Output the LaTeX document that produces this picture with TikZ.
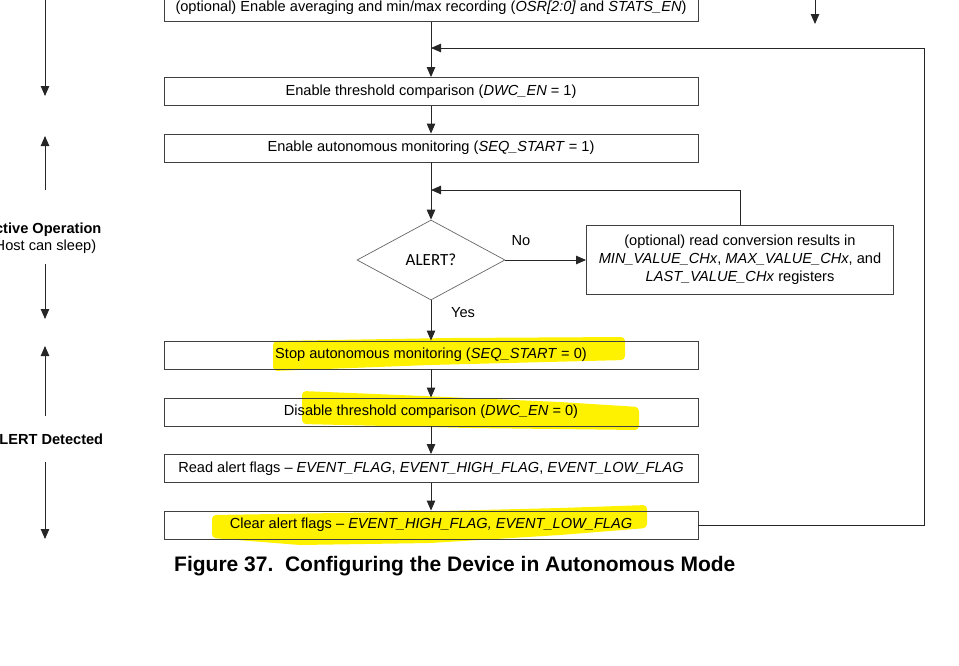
\documentclass[tikz,border=0pt]{standalone}
\usepackage{fontspec}
\setmainfont{Liberation Sans}
\newfontfamily\calfont{Carlito}
\usetikzlibrary{arrows.meta,shapes.geometric}
\begin{document}
\begin{tikzpicture}[x=1pt,y=-1pt,
 box/.style={draw=black!75, line width=0.9pt, minimum width=534pt, minimum height=28pt, inner sep=0pt, font=\fontsize{14.6}{17}\selectfont},
 arr/.style={draw=black!85, line width=0.9pt, -{Triangle[length=10pt,width=8.5pt]}},
 lbl/.style={font=\fontsize{14.6}{17}\selectfont, inner sep=0pt},
 side/.style={font=\fontsize{14.6}{17}\selectfont, align=center, inner sep=0pt},
 hl/.style={fill=yellow, draw=none, rounded corners=4pt}]
\useasboundingbox (0,0) rectangle (959,665);
\clip (0,0) rectangle (959,665);
% highlights
\fill[hl] (273,341) -- (450,338) -- (625,337) -- (625,360) -- (430,365) -- (273,371) -- cycle;
\fill[hl] (302,391) -- (400,395) -- (560,402) -- (639,407) -- (639,430) -- (470,428) -- (302,424) -- cycle;
\fill[hl] (212,515) -- (400,512) -- (560,508) -- (647,505) -- (647,528) -- (560,535) -- (430,543) -- (300,545) -- (212,538) -- cycle;
% boxes
\node[box] (b1) at (431,7.5) {(optional) Enable averaging and min/max recording (\textit{OSR[2:0]} and \textit{STATS\_EN})};
\node[box] (b2) at (431,91.5) {Enable threshold comparison (\textit{DWC\_EN} = 1)};
\node[box] (b3) at (431,148) {Enable autonomous monitoring (\textit{SEQ\_START} = 1)};
\node[diamond, draw=black!60, line width=0.7pt, minimum width=148pt, minimum height=80pt, inner sep=0pt, font=\calfont\fontsize{17}{20}\selectfont] (dia) at (431,260) {ALERT?};
\node[draw=black!75, line width=0.9pt, minimum width=307pt, minimum height=69pt, inner sep=0pt, align=center, font=\fontsize{14.6}{18}\selectfont] (rb) at (740,260) {(optional) read conversion results in\\\textit{MIN\_VALUE\_CHx}, \textit{MAX\_VALUE\_CHx}, and\\\textit{LAST\_VALUE\_CHx} registers};
\node[box] (b4) at (431,355) {Stop autonomous monitoring (\textit{SEQ\_START} = 0)};
\node[box] (b5) at (431,412) {Disable threshold comparison (\textit{DWC\_EN} = 0)};
\node[box] (b6) at (431,468.5) {Read alert flags -- \textit{EVENT\_FLAG}, \textit{EVENT\_HIGH\_FLAG}, \textit{EVENT\_LOW\_FLAG}};
\node[box] (b7) at (431,525) {Clear alert flags -- \textit{EVENT\_HIGH\_FLAG, EVENT\_LOW\_FLAG}};
\node[lbl] (no) at (521,241) {No};
\node[lbl] (yes) at (463,313) {Yes};
% connectors
\coordinate (m1) at (431,190);
\coordinate (m2) at (431,48);
\coordinate (rc) at (924,48);
\draw[arr] (b1) -- (b2);
\draw[arr] (b2) -- (b3);
\draw[arr] (b3) -- (dia);
\draw[arr] (dia.east) -- (dia.east -| rb.west);
\draw[arr] (rb.north) |- (m1);
\draw[arr] (dia) -- (b4);
\draw[arr] (b4) -- (b5);
\draw[arr] (b5) -- (b6);
\draw[arr] (b6) -- (b7);
\draw[arr] (b7.east) -| (rc) -- (m2);
% top right arrow
\coordinate (t0) at (815,-5);
\coordinate (t1) at (815,24);
\draw[arr] (t0) -- (t1);
% left side
\node[side] (s1) at (43,238) {\textbf{Active Operation}\\(Host can sleep)};
\node[side] (s2) at (46,439) {\textbf{ALERT Detected}};
\coordinate (a0) at (45,-5);
\coordinate (a1) at (45,96);
\coordinate (a2) at (45,190);
\coordinate (a3) at (45,136);
\coordinate (a4) at (45,264);
\coordinate (a5) at (45,319);
\coordinate (a6) at (45,416);
\coordinate (a7) at (45,346);
\coordinate (a8) at (45,462);
\coordinate (a9) at (45,539);
\draw[arr] (a0) -- (a1);
\draw[arr] (a2) -- (a3);
\draw[arr] (a4) -- (a5);
\draw[arr] (a6) -- (a7);
\draw[arr] (a8) -- (a9);
% caption
\node[anchor=west, inner sep=0pt, font=\bfseries\fontsize{21}{24}\selectfont] (cap) at (174,566) {Figure 37.\ \ Configuring the Device in Autonomous Mode};
\end{tikzpicture}
\end{document}
